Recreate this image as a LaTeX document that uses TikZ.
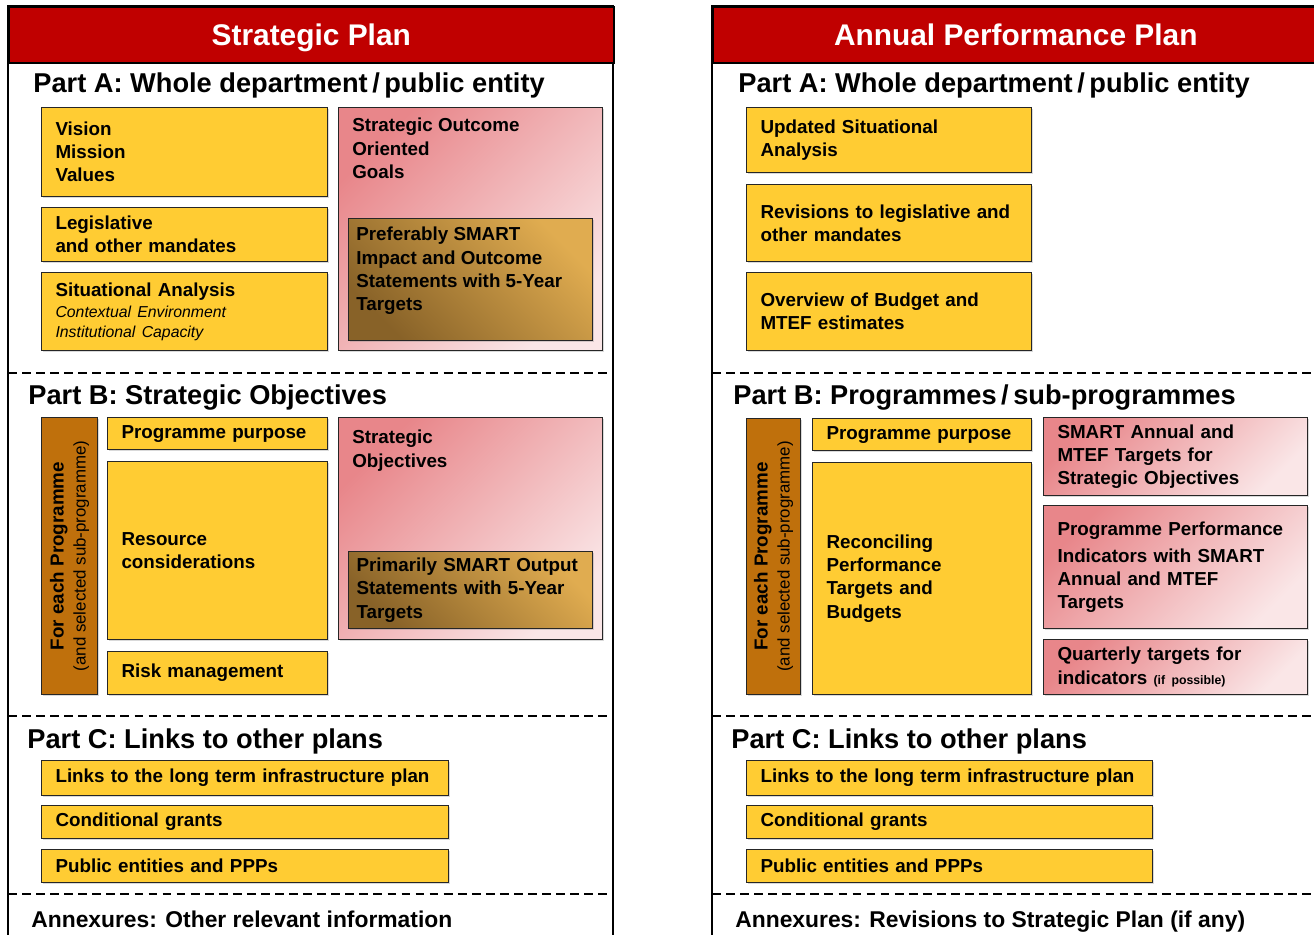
\documentclass[tikz,border=0pt]{standalone}
\usepackage{fontspec}
\setmainfont{Liberation Sans}
\usetikzlibrary{shadows}

\definecolor{hdred}{RGB}{192,0,0}
\definecolor{boxyel}{RGB}{255,204,51}
\definecolor{barbrn}{RGB}{191,112,12}
\definecolor{pinkdk}{RGB}{232,134,138}
\definecolor{pinklt}{RGB}{250,230,231}
\definecolor{goldlt}{RGB}{224,172,80}
\definecolor{golddk}{RGB}{136,98,40}

\begin{document}
\begin{tikzpicture}[x=0.02cm,y=-0.02cm,
  bsize/.style 2 args={minimum width=#1*0.02cm,minimum height=#2*0.02cm,text width=(#1-28)*0.02cm},
  shd/.style={drop shadow={shadow xshift=0.7pt,shadow yshift=-0.7pt,opacity=0.3}},
  btxt/.style={font=\fontsize{10.7}{13.2}\selectfont\bfseries,align=left},
  ybox/.style={btxt,shd,anchor=north west,draw=black!85,line width=0.6pt,fill=boxyel},
  pbox/.style={btxt,shd,anchor=north west,draw=black!85,line width=0.6pt,top color=pinkdk,bottom color=pinklt,shading angle=45},
  gbox/.style={btxt,shd,anchor=north west,draw=black!85,line width=0.6pt,top color=goldlt,bottom color=golddk,shading angle=-45},
  pbar/.style={shd,anchor=north west,draw=black!85,line width=0.6pt,fill=barbrn},
  vtxt/.style={rotate=90,align=center,font=\fontsize{10.7}{12.5}\selectfont},
  panel/.style={draw=black,line width=0.6pt},
  hbar/.style={anchor=north west,draw=black,line width=0.9pt,fill=hdred,text=white,text height=14pt,text depth=1.8pt,font=\fontsize{17}{20}\selectfont\bfseries},
  head/.style={anchor=base west,font=\fontsize{15.5}{18}\selectfont\bfseries},
  anx/.style={anchor=base west,font=\fontsize{13}{15}\selectfont\bfseries},
  sepline/.style={dash pattern=on 5pt off 3pt,line width=0.6pt}]
\tikzstyle{every node}+=[inner sep=0pt]
\useasboundingbox (0,0) rectangle (1314,935);

% strategic plan
\draw[panel] (8,6) rectangle (613,950);
\node[hbar,minimum width=605*0.02cm,minimum height=56*0.02cm] (sptitle) at (8,6) {Strategic Plan};
\node[head] (spa) at (33,93) {Part A: Whole department\,/\,public entity};
\node[ybox,bsize={286}{89}] (spvis) at (41,107) {Vision\\Mission\\Values};
\node[ybox,bsize={286}{54}] (spleg) at (41,207) {Legislative\\and other mandates};
\node[ybox,bsize={286}{78}] (spsit) at (41,272) {Situational Analysis\\[-1pt]{\mdseries\itshape\fontsize{9}{11}\selectfont Contextual Environment}\\[-2pt]{\mdseries\itshape\fontsize{9}{11}\selectfont Institutional Capacity}};
\node[pbox,bsize={264}{243}] (spgoal) at (338,107) {};
\node[btxt,anchor=north west] (spgoalt) at (352,118) {Strategic Outcome\\Oriented\\Goals};
\node[gbox,bsize={244}{122}] (spimp) at (348,218) {};
\node[btxt,anchor=north west] (spimpt) at (356,227) {Preferably SMART\\Impact and Outcome\\Statements with 5-Year\\Targets};
\draw[sepline] (8,373) -- (613,373);

\node[head] (spb) at (28,405) {Part B: Strategic Objectives};
\node[pbar,minimum width=56*0.02cm,minimum height=277*0.02cm] (spbar) at (41,417) {};
\node[vtxt] (spbart) at (spbar.center) {{\bfseries For each Programme}\\{\fontsize{9.6}{11}\selectfont (and selected sub-programme)}};
\node[ybox,bsize={220}{32}] (sppur) at (107,417) {Programme purpose};
\node[ybox,bsize={220}{178}] (spres) at (107,461) {Resource\\considerations};
\node[ybox,bsize={220}{43}] (sprisk) at (107,651) {Risk management};
\node[pbox,bsize={264}{222}] (spobj) at (338,417) {};
\node[btxt,anchor=north west] (spobjt) at (352,430) {Strategic\\Objectives};
\node[gbox,bsize={244}{77},text width=228*0.02cm] (spout) at (348,551) {Primarily SMART Output\\Statements with 5-Year\\Targets};
\draw[sepline] (8,716) -- (613,716);

\node[head] (spc) at (27,748) {Part C: Links to other plans};
\node[ybox,bsize={407}{35}] (splink) at (41,760) {Links to the long term infrastructure plan};
\node[ybox,bsize={407}{33}] (spcond) at (41,805) {Conditional grants};
\node[ybox,bsize={407}{33}] (sppub) at (41,849) {Public entities and PPPs};
\draw[sepline] (8,894) -- (613,894);
\node[anx] (spanx) at (31,927) {Annexures: Other relevant information};

% annual performance plan
\draw[panel] (712,6) rectangle (1318,950);
\node[hbar,minimum width=606*0.02cm,minimum height=56*0.02cm] (aptitle) at (712,6) {Annual Performance Plan};
\node[head] (apa) at (738,93) {Part A: Whole department\,/\,public entity};
\node[ybox,bsize={285}{65}] (apsit) at (746,107) {Updated Situational\\Analysis};
\node[ybox,bsize={285}{77}] (apleg) at (746,184) {Revisions to legislative and\\other mandates};
\node[ybox,bsize={285}{78}] (apbud) at (746,272) {Overview of Budget and\\MTEF estimates};
\draw[sepline] (712,373) -- (1314,373);

\node[head] (apb) at (733,405) {Part B: Programmes\,/\,sub-programmes};
\node[pbar,minimum width=54*0.02cm,minimum height=276*0.02cm] (apbar) at (746,418) {};
\node[vtxt] (apbart) at (apbar.center) {{\bfseries For each Programme}\\{\fontsize{9.6}{11}\selectfont (and selected sub-programme)}};
\node[ybox,bsize={219}{32}] (appur) at (812,418) {Programme purpose};
\node[ybox,bsize={219}{232}] (aprec) at (812,462) {Reconciling\\Performance\\Targets and\\Budgets};
\node[pbox,bsize={264}{78}] (aptgt) at (1043,417) {SMART Annual and\\MTEF Targets for\\Strategic Objectives};
\node[pbox,bsize={264}{123}] (apind) at (1043,505) {Programme Performance\\[2pt]Indicators with SMART\\Annual and MTEF\\Targets};
\node[pbox,bsize={264}{55}] (apqtr) at (1043,639) {Quarterly targets for\\indicators {\fontsize{7}{8}\selectfont (if possible)}};
\draw[sepline] (712,716) -- (1314,716);

\node[head] (apc) at (731,748) {Part C: Links to other plans};
\node[ybox,bsize={406}{35}] (aplink) at (746,760) {Links to the long term infrastructure plan};
\node[ybox,bsize={406}{33}] (apcond) at (746,805) {Conditional grants};
\node[ybox,bsize={406}{33}] (appub) at (746,849) {Public entities and PPPs};
\draw[sepline] (712,894) -- (1314,894);
\node[anx] (apanx) at (735,927) {Annexures: Revisions to Strategic Plan (if any)};
\end{tikzpicture}
\end{document}
